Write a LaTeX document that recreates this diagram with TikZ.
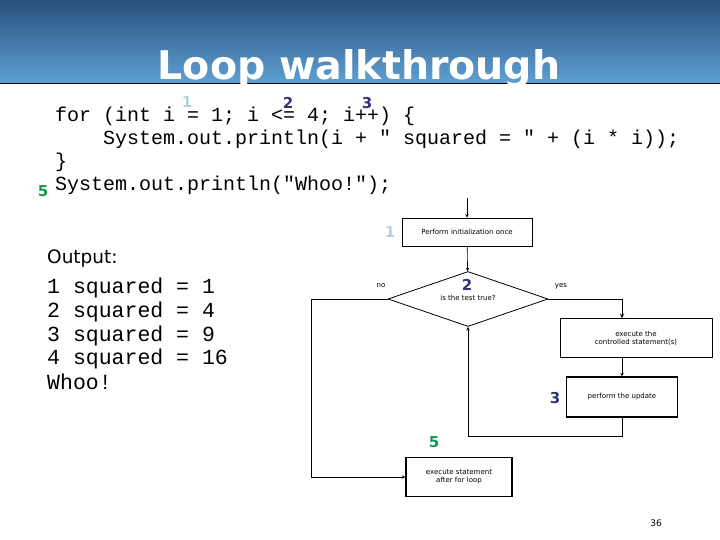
\documentclass[tikz,border=0pt]{standalone}
\usepackage{fontspec}
\setmainfont{DejaVu Sans}
\setmonofont{Liberation Mono}
\usetikzlibrary{shapes.geometric}
\definecolor{hdrtop}{RGB}{40,80,125}
\definecolor{hdrbot}{RGB}{95,160,210}
\definecolor{stepone}{RGB}{175,210,220}
\definecolor{steptwo}{RGB}{50,50,120}
\definecolor{stepfive}{RGB}{20,150,80}
\tikzset{
  box/.style={draw=black,line width=0.8pt,font=\fontsize{7}{8}\selectfont,align=center,inner sep=2pt},
  code/.style={anchor=base west,font=\fontsize{20}{22}\ttfamily,inner sep=0pt},
  stepnum/.style={font=\fontsize{15}{17}\bfseries,inner sep=0pt},
  flow/.style={line width=0.6pt},
  arr/.style={flow,-stealth}
}
\begin{document}
\begin{tikzpicture}[x=1pt,y=-1pt]
\useasboundingbox (0,0) rectangle (720,540);
% header
\shade[top color=hdrtop,bottom color=hdrbot] (0,0) rectangle (720,83);
\draw[line width=0.8pt] (0,83) -- (720,83);
\node[anchor=base,text=white,font=\fontsize{39.5}{42}\bfseries,inner sep=0pt] (title) at (359,80) {Loop walkthrough};
% code
\node[code] (c1) at (55,122) {for (int i = 1; i <= 4; i++) \{};
\node[code] (c2) at (103,145) {System.out.println(i + " squared = " + (i * i));};
\node[code] (c3) at (55,168) {\}};
\node[code] (c4) at (55,191) {System.out.println("Whoo!");};
\node[stepnum,text=stepone] (n1) at (187,102) {1};
\node[stepnum,text=steptwo] (n2) at (288,103) {2};
\node[stepnum,text=steptwo] (n3) at (367,103) {3};
\node[stepnum,text=stepfive] (n5) at (43,191) {5};
% output
\node[anchor=base west,font=\fontsize{18.5}{20}\selectfont,inner sep=0pt] (out) at (47,263) {Output:};
\foreach \n/\t [count=\k] in {1/1,2/4,3/9,4/16}
  \node[code,font=\fontsize{21.5}{23}\ttfamily] (o\k) at (47,270+23.7*\k) {\n{} squared = \t};
\node[code,font=\fontsize{21.5}{23}\ttfamily] (o5) at (47,389) {Whoo!};
% flowchart
\coordinate (start) at (467,198);
\node[box,minimum width=130pt,minimum height=28pt] (init) at (467,232) {Perform initialization once};
\node[draw=black,line width=0.8pt,diamond,aspect=2.9,minimum width=160pt,minimum height=55pt,inner sep=0pt] (test) at (468,299) {};
\node[font=\fontsize{7}{8}\selectfont] (testlbl) at (468,298) {is the test true?};
\node[box,minimum width=152pt,minimum height=39pt] (body) at (636,338) {execute the\\controlled statement(s)};
\node[box,line width=1.2pt,minimum width=111pt,minimum height=40pt] (upd) at (622,397) {perform the update};
\node[box,line width=1.2pt,minimum width=106pt,minimum height=39pt] (after) at (459,477) {execute statement\\after for loop};
\node[font=\fontsize{7}{8}\selectfont] (no) at (381,286) {no};
\node[font=\fontsize{7}{8}\selectfont] (yes) at (561,286) {yes};
\node[stepnum,text=stepone] (f1) at (390,232) {1};
\node[stepnum,text=steptwo] (f2) at (467,285) {2};
\node[stepnum,text=steptwo] (f3) at (555,398) {3};
\node[stepnum,text=stepfive] (f5) at (434,442) {5};
\draw[arr] (start) -- (init);
\draw[arr] (init) -- (test);
\draw[arr,line width=1pt] (test.east) -| (body.north -| upd.north);
\draw[arr] (body.south -| upd.north) -- (upd.north);
\draw[arr] (upd.south) -- ++(0,19) -| (test.south);
\draw[arr] (test.west) -- ++(-76,0) |- (after.west);
% page number
\node[font=\fontsize{9}{10}\selectfont] (page) at (656,523) {36};
\end{tikzpicture}
\end{document}
